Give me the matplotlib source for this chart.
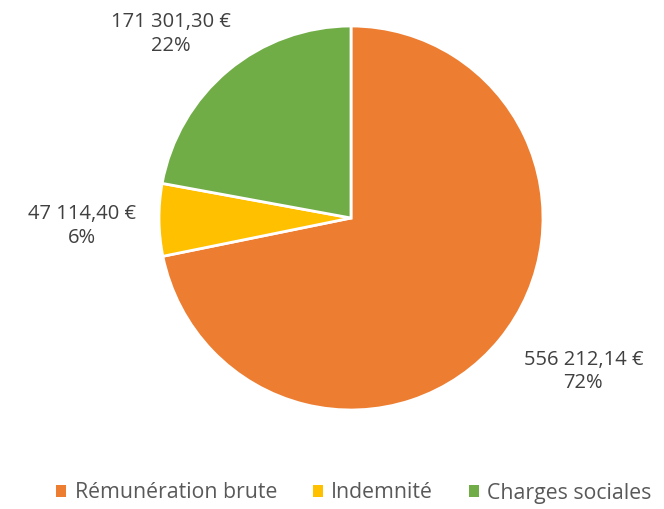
import matplotlib.pyplot as plt
from matplotlib.patches import Patch

categories = ["Rémunération brute", "Indemnité", "Charges sociales"]
values = [556212.14, 47114.40, 171301.30]
value_labels = ["556 212,14 €", "47 114,40 €", "171 301,30 €"]
pct_labels = ["72%", "6%", "22%"]
colors = ["#ED7D31", "#FFC000", "#70AD47"]

plt.rcParams['font.family'] = ['Open Sans', 'DejaVu Sans']

fig = plt.figure(figsize=(6.64, 5.09), dpi=100)
ax = fig.add_axes([159 / 664, 99 / 509, 384 / 664, 384 / 509])

ax.pie(values, colors=colors, startangle=90, counterclock=False, radius=1,
       wedgeprops=dict(edgecolor='white', linewidth=2))
ax.set_xlim(-1, 1)
ax.set_ylim(-1, 1)
ax.set_aspect('equal')

# label positions in data units (radius = 1)
label_pos = [(1.21, -0.80), (-1.40, -0.04), (-0.94, 0.96)]
for (x, y), v, p in zip(label_pos, value_labels, pct_labels):
    ax.text(x, y, v + "\n" + p, ha='center', va='center', fontsize=14.5,
            color='#404040', linespacing=1.25, clip_on=False)

handles = [Patch(facecolor=c, edgecolor='none') for c in colors]
fig.legend(handles, categories, loc='center', bbox_to_anchor=(354 / 664, 1 - 493 / 509),
           ncol=3, frameon=False, fontsize=15.3, labelcolor='#595959',
           handlelength=0.45, handleheight=0.45, handletextpad=0.4, columnspacing=1.7)

fig.savefig("out.png", dpi=100)
